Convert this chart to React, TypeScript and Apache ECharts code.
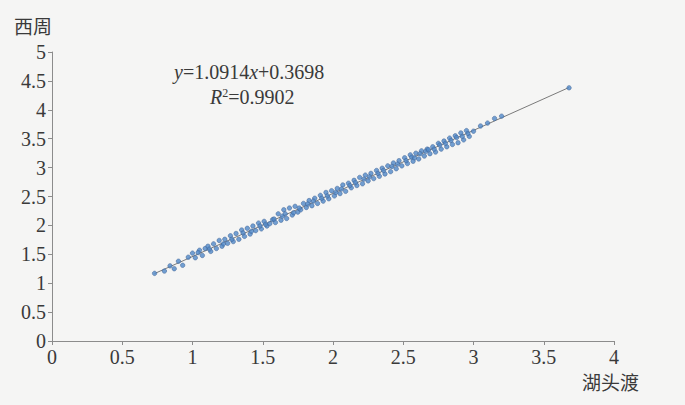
import React, { useEffect, useRef } from "react";
import * as echarts from "echarts";

const xTicks = ["0", "0.5", "1", "1.5", "2", "2.5", "3", "3.5", "4"];
const yTicks = ["0", "0.5", "1", "1.5", "2", "2.5", "3", "3.5", "4", "4.5", "5"];

const hutouduX = [
  0.73, 0.8, 0.84, 0.87, 0.9, 0.93, 0.97, 1.0, 1.02, 1.05, 1.07, 1.09, 1.11, 1.13, 1.15, 1.17, 1.19, 1.21,
  1.23, 1.25, 1.27, 1.29, 1.31, 1.33, 1.35, 1.37, 1.39, 1.41, 1.43, 1.45, 1.47, 1.49, 1.51, 1.53, 1.55,
  1.57, 1.59, 1.61, 1.63, 1.65, 1.67, 1.69, 1.71, 1.73, 1.75, 1.77, 1.79, 1.81, 1.83, 1.85, 1.87, 1.89,
  1.91, 1.93, 1.95, 1.97, 1.99, 2.01, 2.03, 2.05, 2.07, 2.09, 2.11, 2.13, 2.15, 2.17, 2.19, 2.21, 2.23,
  2.25, 2.27, 2.29, 2.31, 2.33, 2.35, 2.37, 2.39, 2.41, 2.43, 2.45, 2.47, 2.49, 2.51, 2.53, 2.55, 2.57,
  2.59, 2.61, 2.63, 2.65, 2.67, 2.69, 2.71, 2.73, 2.75, 2.77, 2.79, 2.81, 2.83, 2.85, 2.87, 2.89, 2.91,
  2.93, 2.95, 2.97, 3.05, 3.1, 3.15, 3.2, 3.68,
  1.04, 1.12, 1.22, 1.28, 1.36, 1.42, 1.48, 1.52, 1.58, 1.64, 1.66, 1.72, 1.76, 1.82, 1.86, 1.92, 1.96,
  2.02, 2.06, 2.12, 2.16, 2.22, 2.26, 2.32, 2.36, 2.42, 2.46, 2.52, 2.56, 2.58, 2.62, 2.66, 2.68, 2.72,
  2.76, 2.8, 2.84, 2.88, 2.92, 2.96, 3.0,
];

const xizhouY = [
  1.17, 1.21, 1.3, 1.25, 1.38, 1.31, 1.45, 1.52, 1.44, 1.57, 1.48, 1.6, 1.64, 1.55, 1.68, 1.6, 1.74, 1.64,
  1.76, 1.69, 1.82, 1.72, 1.86, 1.76, 1.92, 1.81, 1.95, 1.85, 1.99, 1.91, 2.04, 1.94, 2.07, 1.99, 2.03,
  2.1, 2.05, 2.2, 2.09, 2.27, 2.12, 2.3, 2.18, 2.33, 2.23, 2.27, 2.38, 2.31, 2.43, 2.34, 2.47, 2.38,
  2.52, 2.42, 2.57, 2.46, 2.6, 2.51, 2.64, 2.55, 2.7, 2.59, 2.73, 2.65, 2.78, 2.69, 2.83, 2.72, 2.87,
  2.77, 2.9, 2.81, 2.95, 2.85, 2.99, 2.89, 3.03, 2.93, 3.08, 2.98, 3.12, 3.03, 3.17, 3.07, 3.22, 3.11,
  3.25, 3.15, 3.29, 3.2, 3.32, 3.24, 3.36, 3.27, 3.42, 3.32, 3.46, 3.36, 3.51, 3.4, 3.55, 3.43, 3.6,
  3.48, 3.64, 3.54, 3.72, 3.77, 3.85, 3.89, 4.38,
  1.53, 1.59, 1.68, 1.76, 1.87, 1.9, 1.99, 2.02, 2.11, 2.16, 2.2, 2.22, 2.3, 2.37, 2.42, 2.47, 2.51,
  2.57, 2.63, 2.69, 2.74, 2.8, 2.84, 2.9, 2.95, 3.02, 3.06, 3.12, 3.18, 3.17, 3.24, 3.28, 3.31, 3.32,
  3.39, 3.42, 3.47, 3.52, 3.54, 3.59, 3.63,
];

const slope = 1.0914;
const intercept = 0.3698;
const equationText = "{i|y}=1.0914{i|x}+0.3698";
const r2Text = "{i|R}{s|2}=0.9902";
const xName = "湖头渡";
const yName = "西周";

export default function App() {
  const ref = useRef<HTMLDivElement>(null);
  useEffect(() => {
    if (!ref.current) return;
    const chart = echarts.init(ref.current, undefined, { renderer: "svg" });
    const points = hutouduX.map((x, i) => [x, xizhouY[i]]);
    const xMin = Math.min(...hutouduX);
    const xMax = Math.max(...hutouduX);
    const trend = [
      [xMin, slope * xMin + intercept],
      [xMax, slope * xMax + intercept],
    ];
    const serif = "Times New Roman, Liberation Serif, DejaVu Serif, serif";
    const cjk = "Noto Sans CJK SC";
    const txt = "#3a3a3a";
    chart.setOption({
      animation: false,
      backgroundColor: "#f5f5f4",
      grid: { left: 52, right: 71, top: 52, bottom: 64, containLabel: false },
      xAxis: {
        type: "value",
        min: 0,
        max: 4,
        interval: 0.5,
        axisLine: { show: true, lineStyle: { color: "#8c8c8c", width: 1 } },
        axisTick: { show: true, length: 4, lineStyle: { color: "#8c8c8c" } },
        splitLine: { show: false },
        axisLabel: {
          color: txt,
          fontFamily: serif,
          fontSize: 20,
          margin: 6,
          formatter: (v: number) => xTicks[Math.round(v * 2)] ?? "",
        },
      },
      yAxis: {
        type: "value",
        min: 0,
        max: 5,
        interval: 0.5,
        axisLine: { show: true, lineStyle: { color: "#8c8c8c", width: 1 } },
        axisTick: { show: true, length: 4, lineStyle: { color: "#8c8c8c" } },
        splitLine: { show: false },
        axisLabel: {
          color: txt,
          fontFamily: serif,
          fontSize: 20,
          margin: 6,
          formatter: (v: number) => yTicks[Math.round(v * 2)] ?? "",
        },
      },
      series: [
        {
          type: "line",
          data: trend,
          symbol: "none",
          lineStyle: { color: "#7a7a7a", width: 1 },
          z: 1,
        },
        {
          type: "scatter",
          data: points,
          symbol: "circle",
          symbolSize: 4.5,
          itemStyle: { color: "#5088c8", borderColor: "#3d5f8f", borderWidth: 0.6 },
          z: 2,
        },
      ],
      graphic: [
        {
          type: "text",
          left: 14,
          top: 16,
          style: { text: yName, fontFamily: cjk, fontSize: 19, fill: txt },
        },
        {
          type: "text",
          left: 582,
          top: 372,
          style: { text: xName, fontFamily: cjk, fontSize: 19, fill: txt },
        },
        {
          type: "text",
          left: 174,
          top: 62,
          style: {
            text: equationText,
            fontFamily: serif,
            fontSize: 20,
            fill: txt,
            rich: {
              i: { fontFamily: serif, fontSize: 20, fontStyle: "italic", fill: txt },
            },
          },
        },
        {
          type: "text",
          left: 210,
          top: 87,
          style: {
            text: r2Text,
            fontFamily: serif,
            fontSize: 20,
            fill: txt,
            rich: {
              i: { fontFamily: serif, fontSize: 20, fontStyle: "italic", fill: txt },
              s: { fontFamily: serif, fontSize: 12, fill: txt, verticalAlign: "top", padding: [0, 0, 8, 0] },
            },
          },
        },
      ],
    });
    return () => chart.dispose();
  }, []);
  return (
    <div
      ref={ref}
      style={{ position: "fixed", left: 0, top: 0, width: 685, height: 405 }}
    />
  );
}
